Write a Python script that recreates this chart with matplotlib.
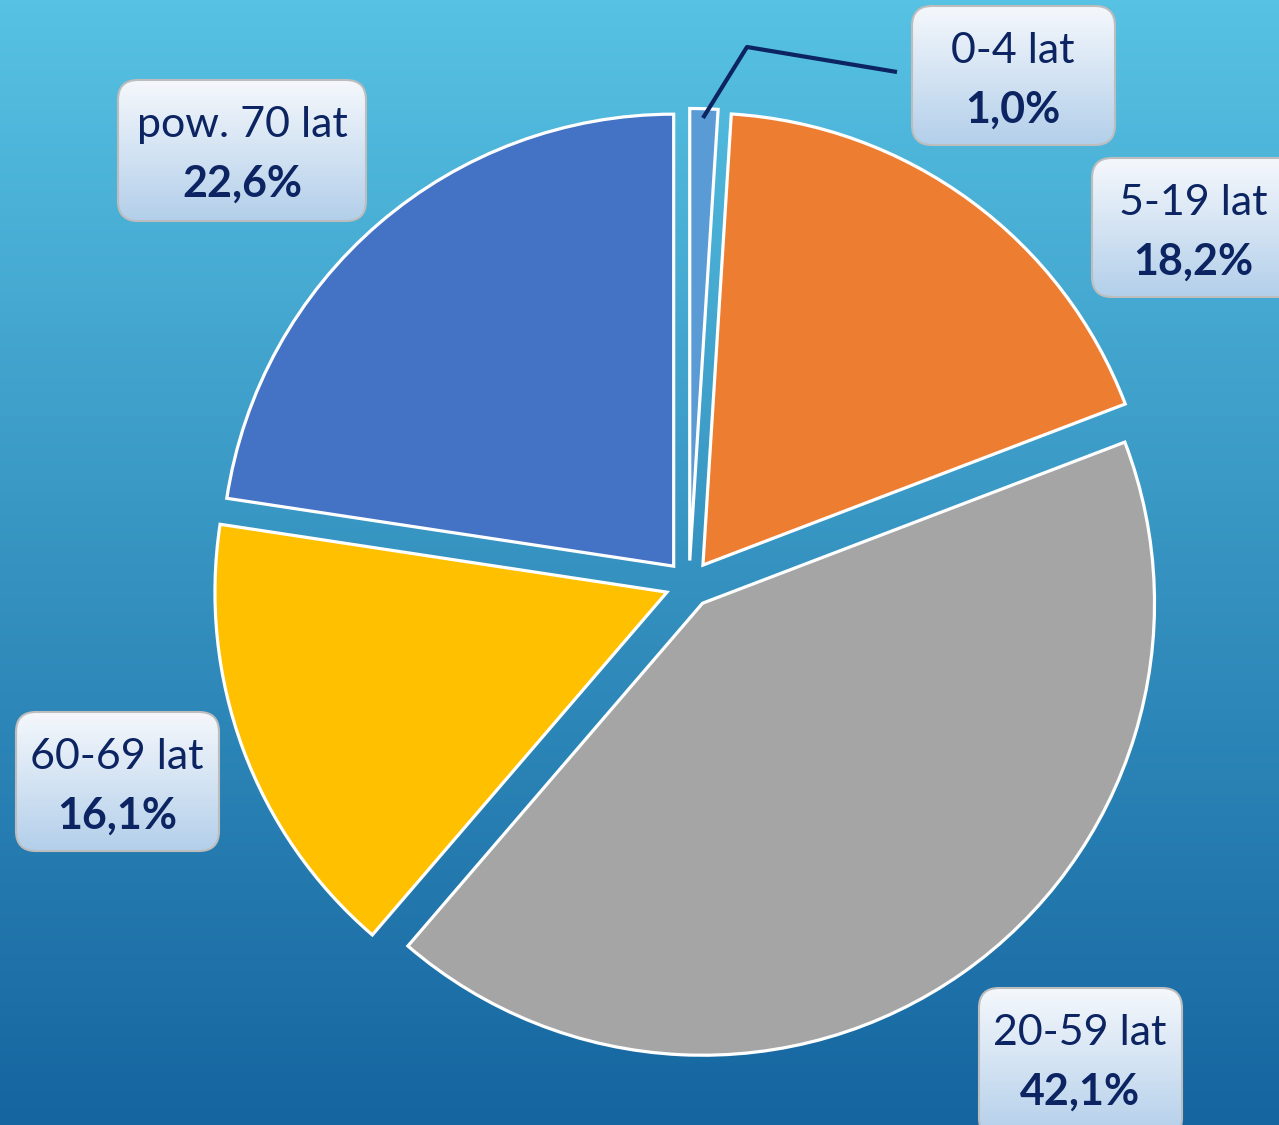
import numpy as np
import matplotlib.pyplot as plt
from matplotlib.patches import FancyBboxPatch
from matplotlib.colors import LinearSegmentedColormap

# data
age_groups = ['0-4 lat', '5-19 lat', '20-59 lat', '60-69 lat', 'pow. 70 lat']
shares = [1.0, 18.2, 42.1, 16.1, 22.6]
slice_colors = ['#5B9BD5', '#ED7D31', '#A5A5A5', '#FFC000', '#4472C4']

# label boxes: (x0, y0 from top, width, height) in pixels
label_boxes = [(912, 6, 203, 139), (1092, 158, 210, 139), (979, 988, 203, 150),
               (16, 712, 203, 139), (118, 80, 248, 141)]

W, H = 1279, 1125
text_color = '#0C2461'
plt.rcParams['font.family'] = ['Lato', 'DejaVu Sans']

fig = plt.figure(figsize=(W / 100, H / 100), dpi=100)
ax = fig.add_axes([0, 0, 1, 1])

# background gradient
bg = LinearSegmentedColormap.from_list('bg', ['#1565A0', '#3693C1', '#57C2E3'])
grad = np.linspace(0, 1, 256).reshape(-1, 1)
ax.imshow(grad, cmap=bg, extent=[0, W, 0, H], origin='lower', aspect='auto', zorder=0)

# pie (explode is in data units here = pixels)
wedges, _ = ax.pie(shares, colors=slice_colors, startangle=90, counterclock=False,
                   center=(689, H - 584), radius=452, explode=[23.5] * 5,
                   wedgeprops=dict(edgecolor='white', linewidth=2.3), frame=True)
for w in wedges:
    w.set_zorder(2)

# leader line for the small slice
ax.plot([703, 747, 897], [H - 118, H - 47, H - 72], color='#0C2461', lw=3, zorder=3,
        solid_capstyle='butt')

box_cmap = LinearSegmentedColormap.from_list('box', ['#B3CFEA', '#F5F8FC'])
for name, val, (bx, by, bw, bh) in zip(age_groups, shares, label_boxes):
    y0 = H - by - bh
    patch = FancyBboxPatch((bx, y0), bw, bh, boxstyle='round,pad=0,rounding_size=20',
                           facecolor='none', edgecolor='#BDBDBD', lw=1.5, zorder=6)
    ax.add_patch(patch)
    im = ax.imshow(grad, cmap=box_cmap, extent=[bx, bx + bw, y0, y0 + bh],
                   origin='lower', aspect='auto', zorder=5)
    im.set_clip_path(patch)
    cx = bx + 101
    if name == 'pow. 70 lat':
        cx = bx + bw / 2
    top = H - by
    ax.text(cx, top - 45, name, ha='center', va='center', fontsize=31,
            color=text_color, zorder=7)
    pct = ('%.1f' % val).replace('.', ',') + '%'
    ax.text(cx, top - 104, pct, ha='center', va='center', fontsize=31,
            fontweight='bold', color=text_color, zorder=7)

ax.set_xlim(0, W)
ax.set_ylim(0, H)
ax.axis('off')
plt.savefig('out.png', dpi=100)
